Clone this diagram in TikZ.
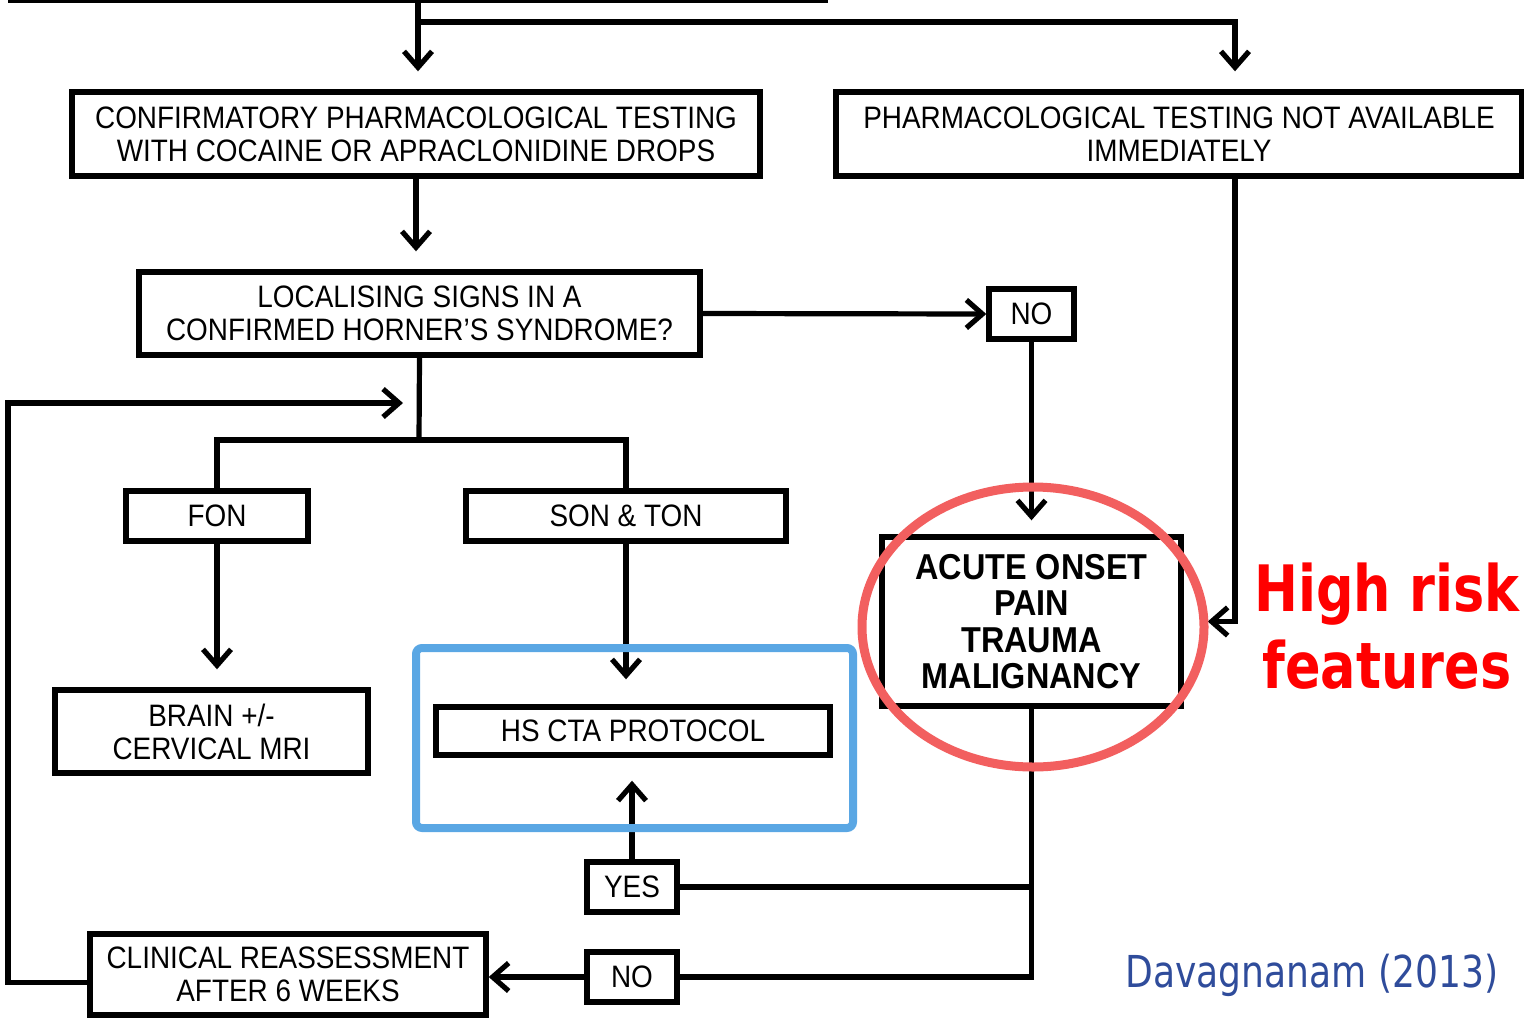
\documentclass[tikz,border=0pt]{standalone}
\usepackage{fontspec}
\setmainfont{Liberation Sans}[FakeStretch=0.9]
\newfontfamily\notefont{DejaVu Sans}[FakeStretch=0.82]
\usetikzlibrary{arrows.meta}
\definecolor{hsblue}{RGB}{90,167,228}
\definecolor{ringred}{RGB}{242,95,95}
\definecolor{citeblue}{RGB}{47,76,155}

\begin{document}
\begin{tikzpicture}[x=0.5pt,y=-0.5pt,
    box/.style={draw,line width=2.7pt,align=center,inner sep=0pt,
      font=\fontsize{15.5}{16.5}\selectfont},
    flow/.style={line width=2.6pt,-{Straight Barb[length=8pt,width=14pt]},shorten >=9pt},
    link/.style={line width=2.6pt}]
  \useasboundingbox (0,0) rectangle (1524,1017);
  \clip (0,0) rectangle (1524,1017);

  \node[box,minimum width=407.5pt,minimum height=40pt] (top) at (418,-40) {};
  \node[box,minimum width=344pt,minimum height=42pt] (conf) at (416,134)
    {CONFIRMATORY PHARMACOLOGICAL TESTING\\WITH COCAINE OR APRACLONIDINE DROPS};
  \node[box,minimum width=343pt,minimum height=42pt] (avail) at (1179,134)
    {PHARMACOLOGICAL TESTING NOT AVAILABLE\\IMMEDIATELY};
  \node[box,minimum width=280.5pt,minimum height=41.5pt] (local) at (419.5,313.5)
    {LOCALISING SIGNS IN A\\CONFIRMED HORNER'S SYNDROME?};
  \node[box,minimum width=42.5pt,minimum height=25pt] (no1) at (1031.5,314) {NO};
  \node[box,minimum width=91pt,minimum height=25pt] (fon) at (217,516) {FON};
  \node[box,minimum width=160pt,minimum height=25pt] (son) at (626,516) {SON \& TON};
  \node[box,minimum width=149.5pt,minimum height=84.5pt,
    font=\bfseries\fontsize{18}{18.3}\selectfont] (acute) at (1031.5,621.5)
    {ACUTE ONSET\\PAIN\\TRAUMA\\MALIGNANCY};
  \node[box,minimum width=156.5pt,minimum height=41.5pt] (brain) at (211.5,731.5)
    {BRAIN +/-\\CERVICAL MRI};
  \node[box,minimum width=197pt,minimum height=24pt] (hs) at (633,731) {HS CTA PROTOCOL};
  \node[box,minimum width=45pt,minimum height=25pt] (yes) at (632,887) {YES};
  \node[box,minimum width=45pt,minimum height=25pt] (no2) at (632,977) {NO};
  \node[box,minimum width=198pt,minimum height=40.5pt] (clin) at (288,974.5)
    {CLINICAL REASSESSMENT\\AFTER 6 WEEKS};

  \coordinate (split) at (418,22);
  \coordinate (fork) at (419,440);
  \coordinate (back) at (403,403);

  \draw[flow] (top.south) -- (top.south |- conf.north);
  \draw[flow] (split) -| ([xshift=28pt]avail.north);
  \draw[flow] (conf.south) -- (conf.south |- local.north);
  \draw[flow,shorten >=0pt] (local.east) -- (no1.west);
  \draw[flow,shorten >=7pt] (no1.south) -- (acute.north);
  \draw[flow,shorten >=12pt] ([xshift=28pt]avail.south) |- (acute.east);
  \draw[link] (local.south) -- (fork);
  \draw[link] (fon.north) |- (fork) -| (son.north);
  \draw[flow] (fon.south) -- (fon.south |- brain.north);
  \draw[flow,shorten >=12.5pt] (son.south) -- (son.south |- hs.north);
  \draw[flow,shorten >=11.5pt] (yes.north) -- (yes.north |- hs.south);
  \draw[link] (acute.south) -- (acute.south |- no2.east) -- (no2.east);
  \draw[link] (yes.east) -- (yes.east -| acute.south);
  \draw[flow,shorten >=0pt] (no2.west) -- (no2.west -| clin.east);
  \draw[flow,shorten >=0pt] ([yshift=-4pt]clin.west) -- (8,982.5) |- (back);

  \node[draw=hsblue,line width=4pt,rounded corners=3pt,minimum width=218.5pt,
    minimum height=90pt] (hsframe) at (634.5,738) {};
  \draw[ringred,line width=4.5pt] (1033,627) ellipse [x radius=85.5pt,y radius=70pt];

  \node[text=red,align=center,font=\notefont\bfseries\fontsize{32}{38.5}\selectfont]
    (risk) at (1387,626) {High risk\\features};
  \node[text=citeblue,font=\notefont\fontsize{22}{26}\selectfont] (cite) at (1312,975)
    {Davagnanam (2013)};
\end{tikzpicture}
\end{document}
